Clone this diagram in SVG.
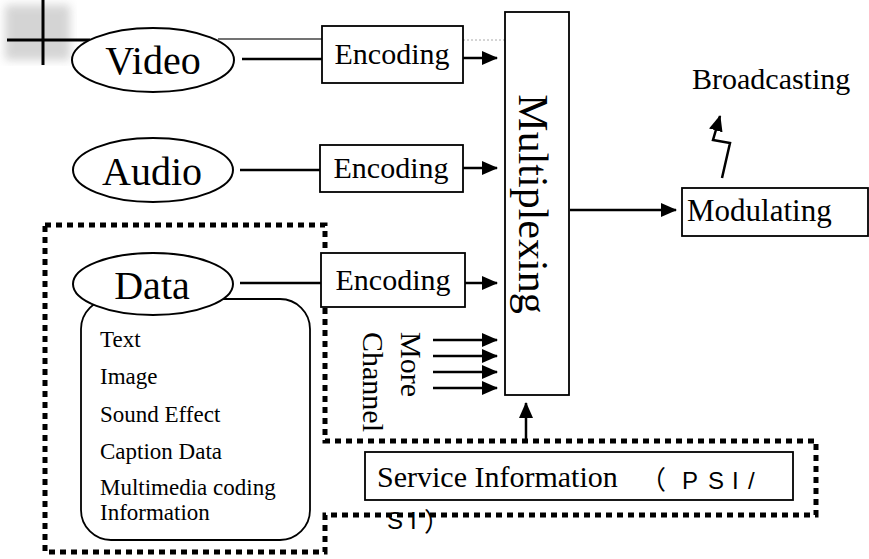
<svg xmlns="http://www.w3.org/2000/svg" width="869" height="559" viewBox="0 0 869 559">
<style>
.t{font-family:"Liberation Serif","Times New Roman",serif;fill:#000}
.big{font-size:40px}
.mid{font-size:30px}
.sm{font-size:23px}
.box{fill:#fff;stroke:#000;stroke-width:1.8}
.ell{fill:#fff;stroke:#000;stroke-width:2}
.ln{stroke:#000;stroke-width:2.5;fill:none}
.dot{fill:none;stroke:#000;stroke-width:5;stroke-dasharray:6 5}
.sans{font-family:"Liberation Sans",Arial,sans-serif;font-size:24px;fill:#000}
.paren{font-family:"Noto Sans CJK SC","Liberation Sans",sans-serif;font-size:26px;fill:#000}
</style>
<defs>
<marker id="ah" markerUnits="userSpaceOnUse" markerWidth="16" markerHeight="14" refX="15" refY="7" orient="auto">
<path d="M0,0 L16,7 L0,14 Z" fill="#000"/>
</marker>
<filter id="blur"><feGaussianBlur stdDeviation="5"/></filter>
</defs>
<rect width="869" height="559" fill="#fff"/>

<g id="artifact">
<rect x="5" y="5" width="65" height="55" fill="#aaa" opacity="0.5" filter="url(#blur)"/>
<line x1="43" y1="0" x2="43" y2="65" stroke="#000" stroke-width="3"/>
<line x1="7" y1="40" x2="90" y2="40" stroke="#000" stroke-width="3"/>
<line x1="218" y1="39" x2="322" y2="39" stroke="#444" stroke-width="1.5"/>
<line x1="463" y1="40" x2="505" y2="40" stroke="#aaa" stroke-width="1" stroke-dasharray="2 2"/>
</g>

<g id="dotted-border">
<path class="dot" d="M45,225 H325 V441 H816 V515 H325 V552 H45 Z"/>
</g>

<g id="connectors">
<line class="ln" x1="242" y1="59" x2="322" y2="59"/>
<line class="ln" x1="463" y1="58" x2="497" y2="58" marker-end="url(#ah)"/>
<line class="ln" x1="240" y1="170" x2="320" y2="170"/>
<line class="ln" x1="463" y1="168" x2="497" y2="168" marker-end="url(#ah)"/>
<line class="ln" x1="240" y1="283" x2="321" y2="283"/>
<line class="ln" x1="465" y1="283" x2="497" y2="283" marker-end="url(#ah)"/>
<line class="ln" x1="433" y1="340" x2="497" y2="340" marker-end="url(#ah)"/>
<line class="ln" x1="433" y1="356" x2="497" y2="356" marker-end="url(#ah)"/>
<line class="ln" x1="433" y1="372" x2="497" y2="372" marker-end="url(#ah)"/>
<line class="ln" x1="433" y1="388" x2="497" y2="388" marker-end="url(#ah)"/>
<line class="ln" x1="570" y1="210" x2="676" y2="210" marker-end="url(#ah)"/>
<line class="ln" x1="526" y1="441" x2="526" y2="403" marker-end="url(#ah)"/>
<polyline class="ln" points="722,178 730,143 713,140 720,116" marker-end="url(#ah)"/>
</g>

<g id="data-list">
<rect x="81" y="299" width="229" height="241" rx="30" ry="30" class="box" stroke-width="1.5"/>
<text class="t sm" x="100" y="347">Text</text>
<text class="t sm" x="100" y="384">Image</text>
<text class="t sm" x="100" y="422">Sound Effect</text>
<text class="t sm" x="100" y="459">Caption Data</text>
<text class="t sm" x="100" y="495">Multimedia coding</text>
<text class="t sm" x="100" y="520">Information</text>
</g>

<g id="video">
<ellipse class="ell" cx="153" cy="60" rx="81" ry="32"/>
<text class="t big" x="153" y="74" text-anchor="middle">Video</text>
</g>
<g id="audio">
<ellipse class="ell" cx="153" cy="170" rx="80" ry="32"/>
<text class="t big" x="152" y="185" text-anchor="middle">Audio</text>
</g>
<g id="data">
<ellipse class="ell" cx="153" cy="284" rx="80" ry="31"/>
<text class="t big" x="152" y="299" text-anchor="middle">Data</text>
</g>

<g id="enc1">
<rect class="box" x="322" y="26" width="141" height="57"/>
<text class="t mid" x="392" y="64" text-anchor="middle">Encoding</text>
</g>
<g id="enc2">
<rect class="box" x="320" y="145" width="143" height="47"/>
<text class="t mid" x="391" y="178" text-anchor="middle">Encoding</text>
</g>
<g id="enc3">
<rect class="box" x="321" y="253" width="144" height="54"/>
<text class="t mid" x="393" y="290" text-anchor="middle">Encoding</text>
</g>

<g id="more-channel">
<text class="t mid" transform="translate(401,332) rotate(90)">More</text>
<text class="t mid" transform="translate(363,332) rotate(90)">Channel</text>
</g>

<g id="multiplexing">
<rect class="box" x="505" y="12" width="64" height="383"/>
<text class="t" font-size="42" transform="translate(519,204) rotate(90)" text-anchor="middle">Multiplexing</text>
</g>

<g id="modulating">
<rect class="box" x="682" y="188" width="186" height="48"/>
<text class="t" font-size="31" x="687" y="221">Modulating</text>
</g>

<g id="broadcasting">
<text class="t mid" x="692" y="89">Broadcasting</text>
</g>

<g id="service">
<rect class="box" x="365" y="452" width="428" height="48"/>
<text class="t mid" x="377" y="487">Service Information <tspan class="paren" x="640" y="489">（</tspan><tspan class="sans" x="682" y="489">P</tspan><tspan class="sans" x="708">S</tspan><tspan class="sans" x="732">I</tspan><tspan class="sans" x="748">/</tspan></text>
<text class="sans" y="529"><tspan x="387">S</tspan><tspan x="410">I</tspan><tspan class="paren" x="424" y="531">）</tspan></text>
</g>
</svg>
